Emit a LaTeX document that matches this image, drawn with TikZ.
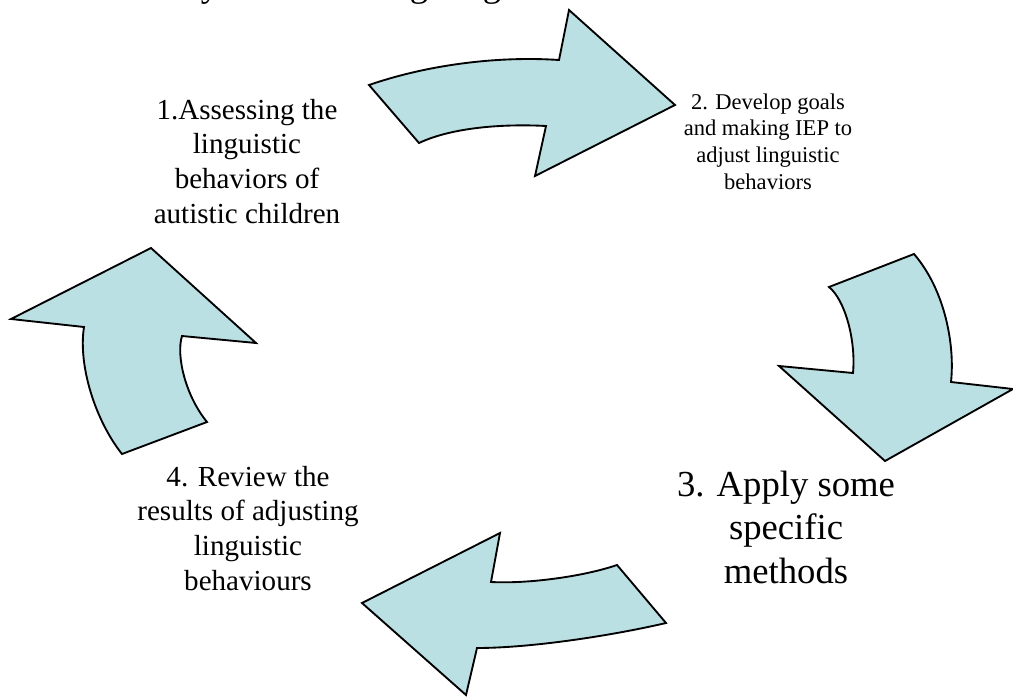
\documentclass[tikz,border=0pt]{standalone}
\usepackage{fontspec}
\setmainfont{Liberation Serif}
\definecolor{arrowfill}{RGB}{187,224,227}
\begin{document}
\begin{tikzpicture}[x=0.75pt,y=-0.75pt,
  cyclearrow/.style={draw=black,fill=arrowfill,line width=1.4pt,line join=miter},
  labelA/.style={font=\fontsize{21.8}{25.9}\selectfont,align=center,anchor=base,inner sep=0pt},
  labelB/.style={font=\fontsize{16.9}{19.9}\selectfont,align=center,anchor=base,inner sep=0pt},
  labelC/.style={font=\fontsize{27.5}{32.3}\selectfont,align=center,anchor=base,inner sep=0pt},
  titlefrag/.style={font=\fontsize{27.5}{32.3}\selectfont,anchor=base,inner sep=0pt}]
\useasboundingbox (0,0) rectangle (1013,696);
% cut-off title (only descenders visible)
\node[titlefrag] (t1) at (210,-3) {y};
\node[titlefrag] (t2) at (419,-3) {g};
\node[titlefrag] (t3) at (492,-3) {g};
% top arrow (1 -> 2)
\draw[cyclearrow] (369,85) .. controls (430,64) and (500,56) .. (559,60)
  -- (569,10) -- (675,105) -- (535,176) -- (546,126)
  .. controls (510,124) and (455,126) .. (419,143) -- cycle;
% right arrow (2 -> 3)
\draw[cyclearrow] (914,254) -- (829,287)
  .. controls (845,300) and (856,340) .. (853,373)
  -- (779,366) -- (885,461) -- (1013,389) -- (951,382)
  .. controls (955,345) and (945,290) .. (914,254) -- cycle;
% bottom arrow (3 -> 4)
\draw[cyclearrow] (617,565) .. controls (585,576) and (530,584) .. (491,582)
  -- (500,533) -- (362,603) -- (466,695) -- (477,648)
  .. controls (530,648) and (610,636) .. (666,623) -- cycle;
% left arrow (4 -> 1)
\draw[cyclearrow] (151,248) -- (256,343) -- (182,336)
  .. controls (176,355) and (185,395) .. (207,422)
  -- (122,454)
  .. controls (95,420) and (78,365) .. (84,327)
  -- (11,319) -- cycle;
% labels (anchor base = baseline of last line)
\node[labelA] (s1) at (247,223) {1.Assessing the\\linguistic\\behaviors of\\autistic children};
\node[labelB] (s2) at (768,189) {2. Develop goals\\and making IEP to\\adjust linguistic\\behaviors};
\node[labelC] (s3) at (786,583) {3. Apply some\\specific\\methods};
\node[labelA] (s4) at (248,590) {4. Review the\\results of adjusting\\linguistic\\behaviours};
\end{tikzpicture}
\end{document}
